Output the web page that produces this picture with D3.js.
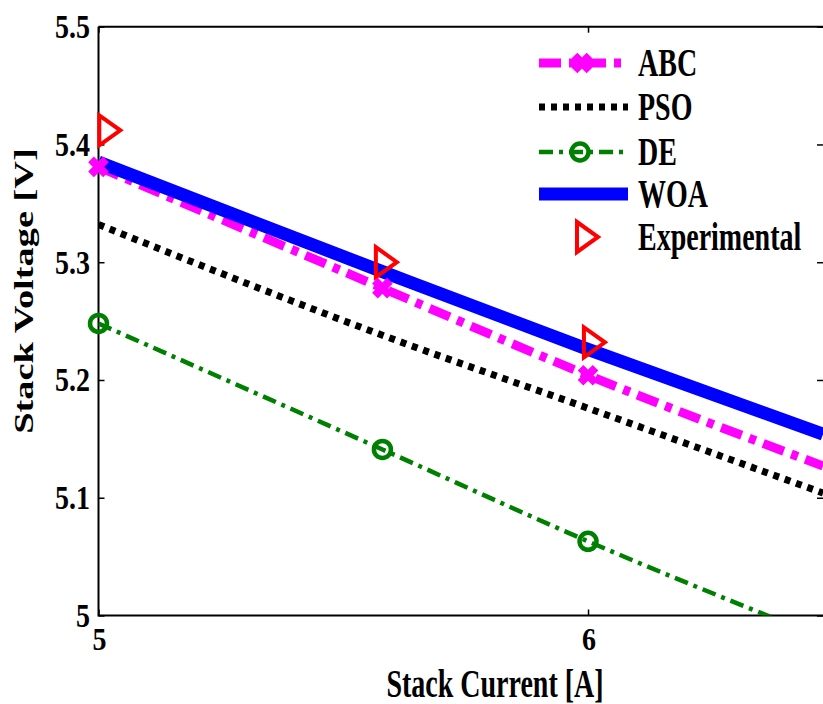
<!DOCTYPE html>
<html>
<head>
<meta charset="utf-8">
<script src="https://cdn.jsdelivr.net/npm/d3@7"></script>
<style>
  html, body { margin: 0; padding: 0; background: #fff; }
  text { font-family: "Liberation Serif", "Times New Roman", serif; font-weight: bold; }
</style>
</head>
<body>
<svg id="chart"></svg>
<script>
// values
const seriesNames = ["ABC", "PSO", "DE", "WOA", "Experimental"];
const curveCurrent = [5, 5.58, 6, 6.48];
const abcVoltage = [5.381, 5.278, 5.204, 5.127];
const psoVoltage = [5.332, 5.238, 5.176, 5.104];
const deVoltage = [5.248, 5.141, 5.063, 4.981];
const woaVoltage = [5.385, 5.292, 5.226, 5.154];
const markerCount = 3; // ABC and DE show markers at the first three currents
const expCurrent = [5.02, 5.585, 6.01];
const expVoltage = [5.412, 5.300, 5.232];
const xTicks = [5, 6];
const yTicks = [5, 5.1, 5.2, 5.3, 5.4, 5.5];

const width = 823;
const height = 704;
const svg = d3.select("#chart")
    .attr("width", width)
    .attr("height", height)
    .attr("viewBox", [0, 0, width, height]);

const mLeft = 98.5, mRight = 823, mTop = 26.7, mBottom = 615.5;

const x = d3.scaleLinear().domain([5, 6.48]).range([mLeft, mRight]);
const y = d3.scaleLinear().domain([5, 5.5]).range([mBottom, mTop]);

svg.append("defs").append("clipPath").attr("id", "plotclip")
    .append("rect")
    .attr("x", mLeft).attr("y", mTop)
    .attr("width", mRight - mLeft).attr("height", mBottom - mTop);

// axes box, ticks inward like matlab
const tickLen = 6;
svg.append("g")
    .attr("transform", `translate(${mLeft},0)`)
    .call(d3.axisLeft(y).tickValues(yTicks).tickSize(-tickLen).tickFormat(""))
    .call(g => g.select(".domain").remove());
svg.append("g")
    .attr("transform", `translate(${mRight},0)`)
    .call(d3.axisRight(y).tickValues(yTicks).tickSize(-tickLen).tickFormat(""))
    .call(g => g.select(".domain").remove());
svg.append("g")
    .attr("transform", `translate(0,${mBottom})`)
    .call(d3.axisBottom(x).tickValues(xTicks).tickSize(-tickLen).tickFormat(""))
    .call(g => g.select(".domain").remove());
svg.append("g")
    .attr("transform", `translate(0,${mTop})`)
    .call(d3.axisTop(x).tickValues(xTicks).tickSize(-tickLen).tickFormat(""))
    .call(g => g.select(".domain").remove());
svg.selectAll(".tick line").attr("stroke", "#000").attr("stroke-width", 1.5);

svg.append("path")
    .attr("d", `M${mLeft},${mTop}H${mRight}M${mLeft},${mTop}V${mBottom}H${mRight}`)
    .attr("fill", "none")
    .attr("stroke", "#000")
    .attr("stroke-width", 2);

// tick labels
svg.append("g").selectAll("g")
    .data(yTicks)
    .join("g")
    .attr("transform", d => `translate(90,${y(d)}) scale(1,1.2)`)
    .append("text")
    .attr("dy", "0.34em")
    .attr("text-anchor", "end")
    .attr("font-size", 28)
    .text(d => d3.format("~g")(d));

svg.append("g").selectAll("g")
    .data(xTicks)
    .join("g")
    .attr("transform", d => `translate(${x(d) + 1},650) scale(1,1.15)`)
    .append("text")
    .attr("text-anchor", "middle")
    .attr("font-size", 28)
    .text(d => d);

// axis titles
svg.append("g")
    .attr("transform", "translate(495,697) scale(1,1.4)")
    .append("text")
    .attr("text-anchor", "middle")
    .attr("font-size", 28)
    .text("Stack Current [A]");

svg.append("g")
    .attr("transform", "translate(33,291) rotate(-90) scale(1.37,1)")
    .append("text")
    .attr("text-anchor", "middle")
    .attr("font-size", 28)
    .text("Stack Voltage [V]");

// lines
const line = d3.line()
    .x(d => x(d[0]))
    .y(d => y(d[1]))
    .curve(d3.curveMonotoneX);

const styles = {
    ABC: {color: "#ff00ff", width: 9, dash: "22 8 7 8"},
    PSO: {color: "#000000", width: 7, dash: "6 6"},
    DE: {color: "#008000", width: 4.5, dash: "14 6 4 6"},
    WOA: {color: "#0000ff", width: 13, dash: null}
};
const lineData = {
    ABC: abcVoltage,
    PSO: psoVoltage,
    DE: deVoltage,
    WOA: woaVoltage
};

const plot = svg.append("g").attr("clip-path", "url(#plotclip)");

function crossPath(s) {
    return `M${-s},${-s}L${s},${s}M${-s},${s}L${s},${-s}`;
}
function trianglePath() {
    return "M-9,-15L12,0L-9,15Z";
}

["ABC", "PSO", "DE", "WOA"].forEach(name => {
    const st = styles[name];
    const pts = curveCurrent.map((c, i) => [c, lineData[name][i]]);
    plot.append("path")
        .datum(pts)
        .attr("d", line)
        .attr("fill", "none")
        .attr("stroke", st.color)
        .attr("stroke-width", st.width)
        .attr("stroke-dasharray", st.dash);

    if (name === "ABC") {
        svg.append("g").selectAll("path")
            .data(pts.slice(0, markerCount))
            .join("path")
            .attr("transform", d => `translate(${x(d[0])},${y(d[1])})`)
            .attr("d", crossPath(7.5))
            .attr("stroke", st.color)
            .attr("stroke-width", 8)
            .attr("fill", "none");
    }
    if (name === "DE") {
        svg.append("g").selectAll("circle")
            .data(pts.slice(0, markerCount))
            .join("circle")
            .attr("cx", d => x(d[0]))
            .attr("cy", d => y(d[1]))
            .attr("r", 8.5)
            .attr("stroke", st.color)
            .attr("stroke-width", 4.5)
            .attr("fill", "none");
    }
});

// experimental points
svg.append("g").selectAll("path")
    .data(expCurrent.map((c, i) => [c, expVoltage[i]]))
    .join("path")
    .attr("transform", d => `translate(${x(d[0])},${y(d[1])})`)
    .attr("d", trianglePath())
    .attr("stroke", "#ff0000")
    .attr("stroke-width", 4)
    .attr("fill", "none");

// legend
const legendRows = [63, 107, 152, 194, 237];
const legend = svg.append("g");
seriesNames.forEach((name, i) => {
    const ly = legendRows[i];
    const row = legend.append("g").attr("transform", `translate(0,${ly})`);
    if (styles[name]) {
        const st = styles[name];
        row.append("line")
            .attr("x1", 539).attr("x2", 628)
            .attr("stroke", st.color)
            .attr("stroke-width", st.width)
            .attr("stroke-dasharray", st.dash);
    }
    if (name === "ABC") {
        row.append("path")
            .attr("transform", "translate(582,0)")
            .attr("d", crossPath(7.5))
            .attr("stroke", styles.ABC.color)
            .attr("stroke-width", 8);
    }
    if (name === "DE") {
        row.append("circle")
            .attr("cx", 580).attr("r", 8.5)
            .attr("fill", "none")
            .attr("stroke", styles.DE.color)
            .attr("stroke-width", 4.5);
    }
    if (name === "Experimental") {
        row.append("path")
            .attr("transform", "translate(586,0)")
            .attr("d", trianglePath())
            .attr("stroke", "#ff0000")
            .attr("stroke-width", 4)
            .attr("fill", "none");
    }
    row.append("g")
        .attr("transform", "translate(638,13) scale(1,1.45)")
        .append("text")
        .attr("font-size", 28)
        .text(name);
});
</script>
</body>
</html>
